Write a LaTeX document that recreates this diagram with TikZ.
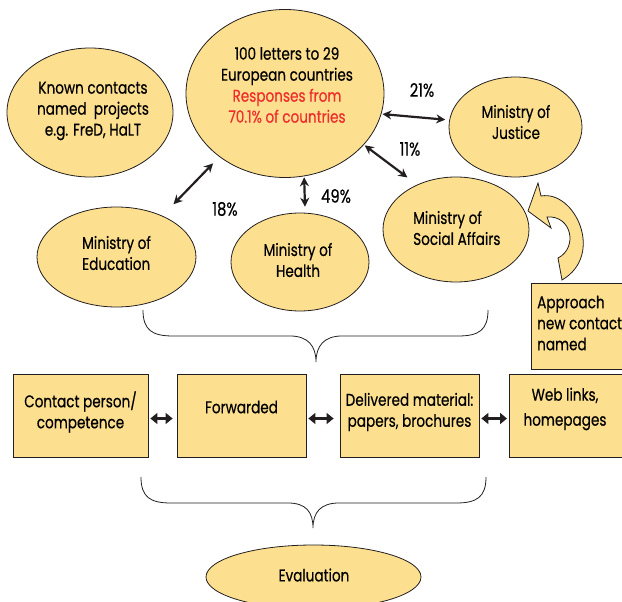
\documentclass[tikz,border=0pt]{standalone}
\usepackage{fontspec}
\setmainfont{Poppins}[FakeStretch=0.8,FakeBold=0.5]
\usetikzlibrary{arrows.meta,calc,shapes.geometric}
\definecolor{fillc}{RGB}{253,224,143}
\definecolor{redt}{RGB}{238,45,45}
\definecolor{linec}{RGB}{35,31,32}
\begin{document}
\begin{tikzpicture}[x=1pt,y=-1pt,
  font=\fontsize{17}{21}\selectfont,
  ell/.style={ellipse, draw=linec, line width=0.8pt, fill=fillc, inner sep=0pt, align=center},
  box/.style={rectangle, draw=linec, line width=0.8pt, fill=fillc, inner sep=0pt, align=center},
  txt/.style={inner sep=0pt, align=center},
  conn/.style={{Stealth[length=9pt,width=9pt]}-{Stealth[length=9pt,width=9pt]}, line width=2.2pt, draw=linec},
  barr/.style={{Triangle[length=7pt,width=11pt]}-{Triangle[length=7pt,width=11pt]}, line width=3pt, draw=linec},
  brace/.style={draw=linec, line width=0.8pt},
  pct/.style={inner sep=0pt, font=\fontsize{18.5}{22}\selectfont}
]
\useasboundingbox (0,0) rectangle (622,602);

% ellipses
\node[ell, minimum width=166pt, minimum height=129pt] (known) at (90,112.5) {};
\node[txt] (knowntext) at (93,111) {Known contacts\\named\ \ projects\\e.g. FreD, HaLT};
\node[ell, minimum width=198pt, minimum height=168pt] (big) at (285,93.5) {};
\node[txt] (bigtext) at (287,85)
  {100 letters to 29\\European countries\\\textcolor{redt}{Responses from}\\\textcolor{redt}{70.1\% of countries}};
\node[ell, minimum width=133pt, minimum height=100pt] (just) at (515.5,127) {};
\node[txt] (justtext) at (516,122) {Ministry of\\Justice};
\node[ell, minimum width=159pt, minimum height=100pt] (edu) at (116.5,257) {};
\node[txt, align=left, anchor=west] (edutext) at (82,253) {Ministry of\\Education};
\node[ell, minimum width=138pt, minimum height=98pt] (health) at (300,262) {};
\node[txt] (healthtext) at (298,260) {Ministry of\\Health};
\node[ell, minimum width=146pt, minimum height=105pt] (social) at (456,229.5) {};
\node[txt, align=left, anchor=west] (socialtext) at (413,228) {Ministry of\\Social Affairs};
\node[ell, minimum width=215pt, minimum height=64pt] (eval) at (313.5,577) {};
\node[txt] (evaltext) at (314,575) {Evaluation};

% connectors from the big circle
\draw[conn, shorten <=1pt, shorten >=4pt] (big.-12.6) -- (just.174.8);
\draw[conn, shorten <=1pt, shorten >=12pt] (big.-33.4) -- (social.131.3);
\draw[conn, shorten <=1pt, shorten >=6pt] (big.-77.8) -- (health.84);
\draw[conn, shorten <=9pt, shorten >=16pt] (big.224.4) -- (edu.42.6);

\node[pct] (p21) at (422,90) {21\%};
\node[pct] (p11) at (410,149) {11\%};
\node[pct] (p49) at (336,196) {49\%};
\node[pct] (p18) at (225,209) {18\%};

% curved arrow
\draw[draw=linec, line width=0.8pt, fill=fillc, line join=miter]
  (528,211) -- (538,183) -- (541,196)
  .. controls (575,190) and (605,255) .. (562,280)
  -- (558,258)
  .. controls (578,248) and (572,215) .. (547,217)
  -- (551,228) -- cycle;

% approach box
\node[box, minimum width=100pt, minimum height=86pt, anchor=north west] (appr) at (531,283) {};
\node[txt, align=left, anchor=west] (apprtext) at (537,323)
  {Approach\\new contact\\named};

% brace 1
\draw[brace] (143,310) .. controls (143,330) and (152,336) .. (173,336)
  -- (290,336) .. controls (308,336) and (316,346) .. (316,362)
  .. controls (316,346) and (324,336) .. (342,336)
  -- (458,336) .. controls (479,336) and (488,330) .. (488,310);

% boxes
\node[box, minimum width=135pt, minimum height=83pt] (b1) at (80.5,415.5) {};
\node[txt] (b1text) at (80.5,412) {Contact person/\\competence};
\node[box, minimum width=129pt, minimum height=83pt] (b2) at (241.5,415.5) {};
\node[txt] (b2text) at (241.5,407) {Forwarded};
\node[box, minimum width=139pt, minimum height=83pt] (b3) at (409.5,415.5) {};
\node[txt] (b3text) at (409.5,412) {Delivered material:\\papers, brochures};
\node[box, minimum width=120pt, minimum height=83pt, anchor=west] (b4) at (509,415.5) {};
\node[txt, font=\fontsize{17}{25}\selectfont] (b4text) at (565,409) {Web links,\\homepages};

\draw[barr, shorten <=2pt, shorten >=4pt] ([yshift=-3pt]b1.east) -- ([yshift=-3pt]b2.west);
\draw[barr, shorten <=2pt, shorten >=6pt] ([yshift=-3pt]b2.east) -- ([yshift=-3pt]b3.west);
\draw[barr, shorten <=2pt, shorten >=2pt] ([yshift=-3pt]b3.east) -- ([yshift=-3pt]b4.west);

% brace 2
\draw[brace] (141,477) .. controls (141,497) and (150,503) .. (171,503)
  -- (288,503) .. controls (306,503) and (313,512) .. (313,528)
  .. controls (313,512) and (321,503) .. (339,503)
  -- (456,503) .. controls (477,503) and (486,497) .. (486,477);
\end{tikzpicture}
\end{document}
